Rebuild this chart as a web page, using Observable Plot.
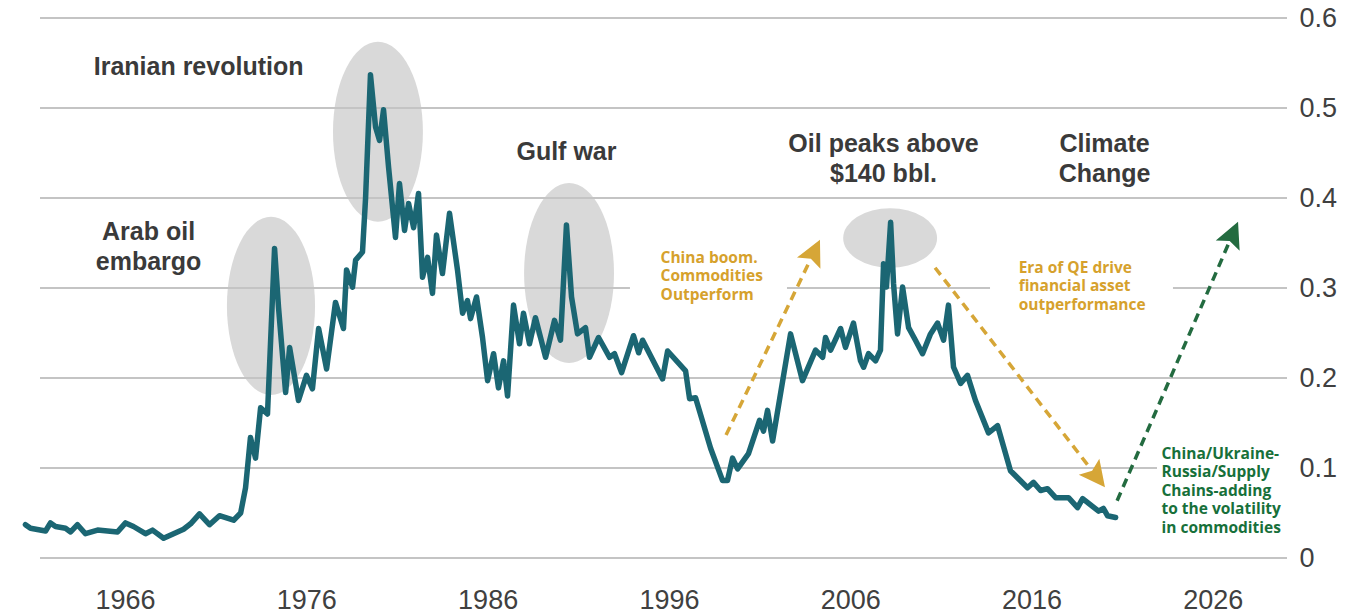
<!DOCTYPE html>
<html>
<head>
<meta charset="utf-8">
<script src="https://cdn.jsdelivr.net/npm/d3@7"></script>
<script src="https://cdn.jsdelivr.net/npm/@observablehq/plot@0.6"></script>
<style>
  html, body { margin: 0; padding: 0; background: #ffffff; }
  #chart { width: 1361px; height: 613px; }
</style>
</head>
<body>
<div id="chart"></div>
<script>
// ---- Series ----
const years = [
  1960.48, 1960.76, 1961.59, 1961.86, 1962.14, 1962.69, 1962.97, 1963.35, 1963.79, 1964.46,
  1965.56, 1966.00, 1966.44, 1967.10, 1967.49, 1968.10, 1969.20, 1969.59, 1970.08, 1970.63,
  1971.18, 1971.96, 1972.35, 1972.62, 1972.89, 1973.17, 1973.45, 1973.83, 1974.22, 1974.44,
  1974.83, 1975.05, 1975.54, 1975.98, 1976.31, 1976.65, 1977.09, 1977.58, 1978.02, 1978.19,
  1978.52, 1978.69, 1979.07, 1979.24, 1979.51, 1979.79, 1980.01, 1980.23, 1980.51, 1980.89,
  1981.11, 1981.39, 1981.61, 1981.89, 1982.16, 1982.38, 1982.66, 1982.93, 1983.15, 1983.48,
  1983.87, 1984.31, 1984.59, 1984.86, 1985.03, 1985.36, 1985.69, 1985.97, 1986.30, 1986.57,
  1986.85, 1987.07, 1987.40, 1987.73, 1987.95, 1988.28, 1988.61, 1989.17, 1989.66, 1989.99,
  1990.32, 1990.60, 1990.93, 1991.37, 1991.59, 1992.09, 1992.70, 1992.97, 1993.36, 1994.02,
  1994.30, 1994.52, 1995.62, 1995.90, 1996.89, 1997.11, 1997.44, 1998.27, 1998.93, 1999.20,
  1999.48, 1999.76, 2000.36, 2000.97, 2001.19, 2001.41, 2001.69, 2002.68, 2003.34, 2004.06,
  2004.45, 2004.61, 2004.89, 2005.44, 2005.71, 2006.15, 2006.54, 2006.71, 2006.98, 2007.37,
  2007.64, 2007.81, 2007.97, 2008.20, 2008.36, 2008.58, 2008.86, 2009.19, 2009.57, 2009.96,
  2010.40, 2010.79, 2011.12, 2011.39, 2011.67, 2012.06, 2012.44, 2012.88, 2013.60, 2014.10,
  2014.81, 2015.75, 2016.08, 2016.47, 2016.85, 2017.30, 2018.01, 2018.51, 2018.79, 2019.67,
  2019.94, 2020.16, 2020.61
];
const values = [
  0.037, 0.033, 0.030, 0.039, 0.035, 0.033, 0.029, 0.037, 0.027, 0.031,
  0.029, 0.039, 0.035, 0.027, 0.031, 0.022, 0.032, 0.038, 0.049, 0.037,
  0.047, 0.042, 0.050, 0.078, 0.134, 0.111, 0.167, 0.160, 0.344, 0.278,
  0.184, 0.234, 0.175, 0.203, 0.188, 0.255, 0.210, 0.284, 0.255, 0.320,
  0.301, 0.331, 0.340, 0.400, 0.537, 0.479, 0.464, 0.498, 0.434, 0.356,
  0.416, 0.364, 0.394, 0.367, 0.405, 0.312, 0.334, 0.294, 0.359, 0.316,
  0.383, 0.320, 0.272, 0.286, 0.266, 0.290, 0.245, 0.197, 0.227, 0.189,
  0.219, 0.180, 0.281, 0.238, 0.272, 0.238, 0.267, 0.223, 0.264, 0.242,
  0.370, 0.290, 0.249, 0.256, 0.223, 0.245, 0.223, 0.227, 0.206, 0.247,
  0.228, 0.242, 0.199, 0.230, 0.208, 0.177, 0.178, 0.122, 0.086, 0.086,
  0.111, 0.099, 0.116, 0.153, 0.141, 0.164, 0.130, 0.249, 0.197, 0.231,
  0.223, 0.245, 0.231, 0.255, 0.234, 0.261, 0.219, 0.212, 0.227, 0.219,
  0.231, 0.327, 0.301, 0.373, 0.305, 0.249, 0.301, 0.256, 0.242, 0.227,
  0.249, 0.261, 0.242, 0.281, 0.212, 0.194, 0.203, 0.175, 0.139, 0.147,
  0.097, 0.078, 0.084, 0.075, 0.077, 0.067, 0.067, 0.056, 0.066, 0.052,
  0.055, 0.047, 0.045
];

// ---- Ticks ----
const xTicks = [1966, 1976, 1986, 1996, 2006, 2016, 2026];
const xTickLabels = ["1966", "1976", "1986", "1996", "2006", "2016", "2026"];
const yTicks = [0, 0.1, 0.2, 0.3, 0.4, 0.5, 0.6];
const yTickLabels = ["0", "0.1", "0.2", "0.3", "0.4", "0.5", "0.6"];

// ---- Event labels (dark) ----
const eventTexts = ["Iranian revolution", "Arab oil\nembargo", "Gulf war", "Oil peaks above\n$140 bbl.", "Climate\nChange"];
const eventYears = [1970.03, 1967.27, 1990.32, 2007.81, 2020.0];
const eventValues = [0.547, 0.347, 0.453, 0.445, 0.445];

// ---- Highlight ellipses (centre, half-width in years, half-height in value) ----
const ellipseYears = [1974.05, 1979.95, 1990.49, 2008.20];
const ellipseValues = [0.2795, 0.473, 0.316, 0.355];
const ellipseHalfYears = [2.43, 2.48, 2.48, 2.59];
const ellipseHalfValues = [0.099, 0.100, 0.100, 0.033];

// ---- Coloured notes ----
const goldNotes = ["China boom.\nCommodities\nOutperform", "Era of QE drive\nfinancial asset\noutperformance"];
const goldNoteYears = [1995.51, 2015.26];
const goldNoteValues = [0.314, 0.303];
const greenNotes = ["China/Ukraine-\nRussia/Supply\nChains-adding\nto the volatility\nin commodities"];
const greenNoteYears = [2023.14];
const greenNoteValues = [0.0757];

// ---- White boxes behind notes ----
const maskYear1 = [1993.85, 2013.71, 2022.92];
const maskYear2 = [2002.51, 2023.80, 2030.26];
const maskValue1 = [0.275, 0.264, 0.019];
const maskValue2 = [0.353, 0.336, 0.130];

// ---- Dashed arrows ----
const arrowYear1 = [1999.15, 2010.68, 2020.72];
const arrowValue1 = [0.136, 0.322, 0.063];
const arrowYear2 = [2004.33, 2020.05, 2027.39];
const arrowValue2 = [0.353, 0.078, 0.373];
const arrowColors = ["#d6a637", "#d6a637", "#236b40"];

const GOLD = "#d6a12c";
const GREEN = "#17703a";
const DARK = "#3a3a3a";

const series = years.map((y, i) => ({year: y, value: values[i]}));
const events = eventTexts.map((t, i) => ({text: t, year: eventYears[i], value: eventValues[i]}));
const gold = goldNotes.map((t, i) => ({text: t, year: goldNoteYears[i], value: goldNoteValues[i]}));
const green = greenNotes.map((t, i) => ({text: t, year: greenNoteYears[i], value: greenNoteValues[i]}));
const masks = maskYear1.map((x1, i) => ({x1, x2: maskYear2[i], y1: maskValue1[i], y2: maskValue2[i]}));

function ellipseMark(index, scales) {
  const g = d3.create("svg:g");
  ellipseYears.forEach((cxv, i) => {
    const cx = scales.x(cxv), cy = scales.y(ellipseValues[i]);
    const rx = Math.abs(scales.x(cxv + ellipseHalfYears[i]) - cx);
    const ry = Math.abs(scales.y(ellipseValues[i] + ellipseHalfValues[i]) - cy);
    g.append("ellipse").attr("cx", cx).attr("cy", cy).attr("rx", rx).attr("ry", ry)
      .attr("fill", "#d9d9d9");
  });
  return g.node();
}

function arrowMark(index, scales) {
  const g = d3.create("svg:g");
  const L = 26, W = 13;
  arrowYear1.forEach((xv, i) => {
    const x1 = scales.x(xv), y1 = scales.y(arrowValue1[i]);
    const x2 = scales.x(arrowYear2[i]), y2 = scales.y(arrowValue2[i]);
    const dx = x2 - x1, dy = y2 - y1, len = Math.hypot(dx, dy);
    const ux = dx / len, uy = dy / len;
    const bx = x2 - ux * L, by = y2 - uy * L;
    g.append("line").attr("x1", x1).attr("y1", y1).attr("x2", bx + ux * 2).attr("y2", by + uy * 2)
      .attr("stroke", arrowColors[i]).attr("stroke-width", 3.5).attr("stroke-dasharray", "9,6");
    const px = -uy, py = ux;
    g.append("path")
      .attr("d", `M${x2},${y2}L${bx + px * W},${by + py * W}L${bx + ux * 5},${by + uy * 5}L${bx - px * W},${by - py * W}Z`)
      .attr("fill", arrowColors[i]);
  });
  return g.node();
}

const chart = Plot.plot({
  width: 1361,
  height: 613,
  marginLeft: 40,
  marginRight: 74,
  marginTop: 17.5,
  marginBottom: 55.5,
  style: {
    background: "#ffffff",
    fontFamily: "'Liberation Sans', Arial, Helvetica, sans-serif",
    fontSize: "27px",
    color: "#404040",
    overflow: "visible"
  },
  x: {
    domain: [1961.31, 2030.09],
    ticks: xTicks,
    tickSize: 0,
    tickPadding: 32,
    tickFormat: d => xTickLabels[xTicks.indexOf(d)],
    label: null
  },
  y: {
    domain: [0, 0.6],
    axis: "right",
    ticks: yTicks,
    tickSize: 0,
    tickPadding: 12,
    tickFormat: d => yTickLabels[yTicks.indexOf(d)],
    label: null
  },
  marks: [
    ellipseMark,
    Plot.ruleY(yTicks, {stroke: "#c4c4c4", strokeWidth: 2}),
    Plot.rect(masks, {x1: "x1", x2: "x2", y1: "y1", y2: "y2", fill: "#ffffff"}),
    Plot.line(series, {x: "year", y: "value", stroke: "#1b6673", strokeWidth: 5.5, strokeLinejoin: "round", strokeLinecap: "round"}),
    arrowMark,
    Plot.text(events, {x: "year", y: "value", text: "text", fontSize: 25, fontWeight: "bold",
      fill: DARK, lineHeight: 1.2, textAnchor: "middle", lineAnchor: "middle",
      fontFamily: "'Liberation Sans', Arial, Helvetica, sans-serif"}),
    Plot.text(gold, {x: "year", y: "value", text: "text", fontSize: 15.5, fontWeight: "bold",
      fill: GOLD, lineHeight: 1.2, textAnchor: "start", lineAnchor: "middle",
      fontFamily: "'Open Sans', 'Noto Sans', sans-serif"}),
    Plot.text(green, {x: "year", y: "value", text: "text", fontSize: 15.5, fontWeight: "bold",
      fill: GREEN, lineHeight: 1.2, textAnchor: "start", lineAnchor: "middle",
      fontFamily: "'Open Sans', 'Noto Sans', sans-serif"})
  ]
});
document.getElementById("chart").appendChild(chart);
</script>
</body>
</html>
